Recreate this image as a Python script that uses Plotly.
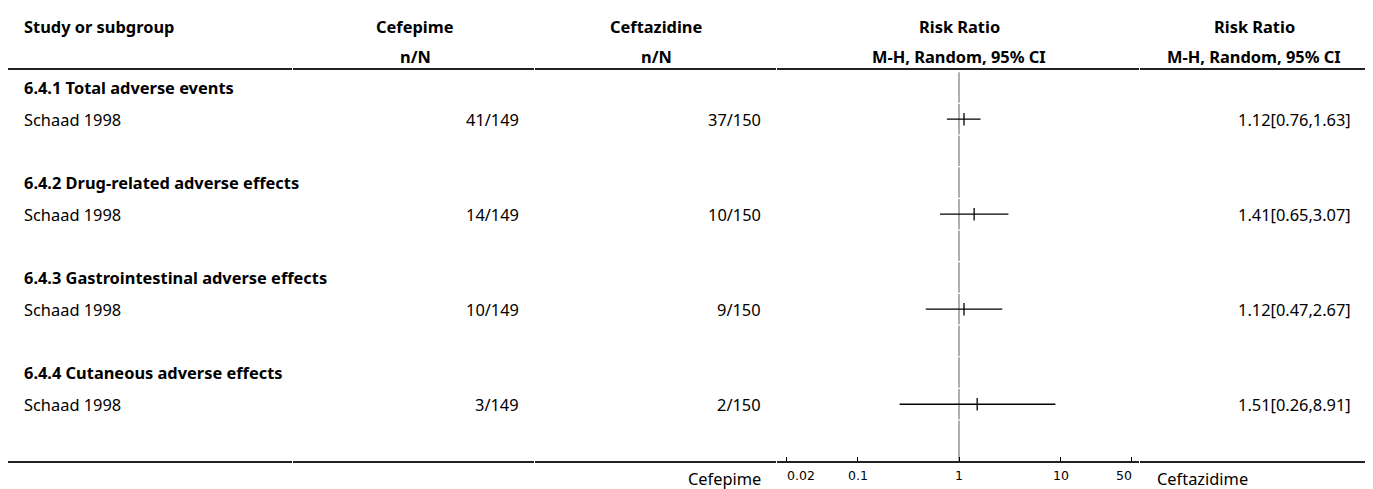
import numpy as np
import plotly.graph_objects as go

# Forest plot data
subgroups = [
    "6.4.1 Total adverse events",
    "6.4.2 Drug-related adverse effects",
    "6.4.3 Gastrointestinal adverse effects",
    "6.4.4 Cutaneous adverse effects",
]
studies = ["Schaad 1998", "Schaad 1998", "Schaad 1998", "Schaad 1998"]
cefepime_n = [41, 14, 10, 3]
cefepime_N = [149, 149, 149, 149]
ceftazidine_n = [37, 10, 9, 2]
ceftazidine_N = [150, 150, 150, 150]
risk_ratio = [1.12, 1.41, 1.12, 1.51]
ci_low = [0.76, 0.65, 0.47, 0.26]
ci_high = [1.63, 3.07, 2.67, 8.91]
tick_values = [0.02, 0.1, 1, 10, 50]
tick_labels = ["0.02", "0.1", "1", "10", "50"]

# the page body adds an 8px margin, so the figure is offset by that
OFF = 8
W, H = 1373 - OFF, 489 - OFF
FONT = "Source Sans Pro, Noto Sans, sans-serif"
BODY = 16.4


# window pixel -> paper coordinates
def px(x):
    return (x - OFF) / W


def py(y):
    return (H - (y - OFF)) / H


ROWS_PER_GROUP = 3
n_rows = ROWS_PER_GROUP * len(subgroups)
row_top_px = 71.7
row_h = 31.67
axis_px = 462
y_bottom = -(n_rows + (axis_px - (row_top_px + n_rows * row_h)) / row_h)

# log axis: 1 at x=959px, 101.5px per decade
px_per_dec = 101.5
col_left, col_right = 777, 1140
x_range = [(col_left - 959) / px_per_dec, (col_right - 959) / px_per_dec]

fig = go.Figure()

# reference line at RR = 1, broken at every row boundary
ref_x, ref_y = [], []
gap = 0.6 / row_h
for i in range(n_rows):
    top = -i - gap
    bottom = -(i + 1) + gap if i < n_rows - 1 else y_bottom
    ref_x += [1, 1, None]
    ref_y += [top, bottom, None]
fig.add_trace(
    go.Scatter(
        x=ref_x, y=ref_y, mode="lines",
        line=dict(color="#9a9a9a", width=1.6),
        hoverinfo="skip", showlegend=False,
    )
)

annotations = []


def text(x, y, s, anchor="left", bold=False, size=BODY, yref="y", family=FONT):
    annotations.append(
        dict(
            x=x, y=y, xref="paper", yref=yref, text=f"<b>{s}</b>" if bold else s,
            showarrow=False, xanchor=anchor, yanchor="middle",
            font=dict(family=family, size=size, color="#000"),
        )
    )


for g, name in enumerate(subgroups):
    head_y = -(g * ROWS_PER_GROUP + 0.5)
    study_y = head_y - 1
    text(px(22), head_y, name, bold=True)
    text(px(22), study_y, studies[g])
    text(px(521), study_y, f"{cefepime_n[g]}/{cefepime_N[g]}", anchor="right")
    text(px(763), study_y, f"{ceftazidine_n[g]}/{ceftazidine_N[g]}", anchor="right")
    text(px(1353), study_y, f"{risk_ratio[g]:.2f}[{ci_low[g]:.2f},{ci_high[g]:.2f}]", anchor="right")

    fig.add_trace(
        go.Scatter(
            x=[ci_low[g], ci_high[g]], y=[study_y, study_y], mode="lines",
            line=dict(color="#000", width=1.3),
            hoverinfo="skip", showlegend=False,
        )
    )
    fig.add_trace(
        go.Scatter(
            x=[risk_ratio[g]], y=[study_y], mode="markers",
            marker=dict(symbol="line-ns", size=9, line=dict(color="#000", width=1.3)),
            hoverinfo="skip", showlegend=False,
        )
    )

# column headers
text(px(22), py(27), "Study or subgroup", bold=True, yref="paper")
text(px(415), py(27), "Cefepime", anchor="center", bold=True, yref="paper")
text(px(415), py(57), "n/N", anchor="center", bold=True, yref="paper")
text(px(656), py(27), "Ceftazidine", anchor="center", bold=True, yref="paper")
text(px(656), py(57), "n/N", anchor="center", bold=True, yref="paper")
text(px(959), py(27), "Risk Ratio", anchor="center", bold=True, yref="paper")
text(px(959), py(57), "M-H, Random, 95% CI", anchor="center", bold=True, yref="paper")
text(px(1254), py(27), "Risk Ratio", anchor="center", bold=True, yref="paper")
text(px(1254), py(57), "M-H, Random, 95% CI", anchor="center", bold=True, yref="paper")

# favours labels
text(px(763), py(478), "Cefepime", anchor="right", yref="paper")
text(px(1155), py(478), "Ceftazidime", anchor="left", yref="paper")

# tick labels (end labels kept inside the scale)
for v, lab in zip(tick_values, tick_labels):
    anchor, shift = "center", 0
    if v == tick_values[0]:
        anchor, shift = "left", -2
    elif v == tick_values[-1]:
        anchor, shift = "right", 3
    annotations.append(
        dict(
            x=np.log10(v), y=py(475), xref="x", yref="paper", text=lab,
            showarrow=False, xanchor=anchor, yanchor="middle", xshift=shift,
            font=dict(family="DejaVu Sans", size=12.5, color="#000"),
        )
    )

# header and bottom rules, split per column
col_edges = [7, 293, 535, 777, 1140, 1366]
shapes = []
for y_line in (69, axis_px):
    for a, b in zip(col_edges[:-1], col_edges[1:]):
        shapes.append(
            dict(
                type="line", xref="paper", yref="paper",
                x0=px(a), x1=px(b - 1), y0=py(y_line), y1=py(y_line),
                line=dict(color="#222", width=2),
            )
        )

fig.update_layout(
    width=W, height=H,
    margin=dict(l=0, r=0, t=0, b=0),
    paper_bgcolor="white", plot_bgcolor="white",
    showlegend=False, hovermode=False,
    annotations=annotations, shapes=shapes,
    xaxis=dict(
        type="log", range=x_range, domain=[px(col_left), px(col_right)],
        tickvals=tick_values, ticks="inside", ticklen=5, tickwidth=1,
        tickcolor="#000", showticklabels=False, showgrid=False,
        zeroline=False, showline=False, fixedrange=True,
    ),
    yaxis=dict(
        range=[y_bottom, 0], domain=[py(axis_px), py(row_top_px)],
        visible=False, fixedrange=True,
    ),
)

fig.write_html("out.html", config={"displayModeBar": False})
